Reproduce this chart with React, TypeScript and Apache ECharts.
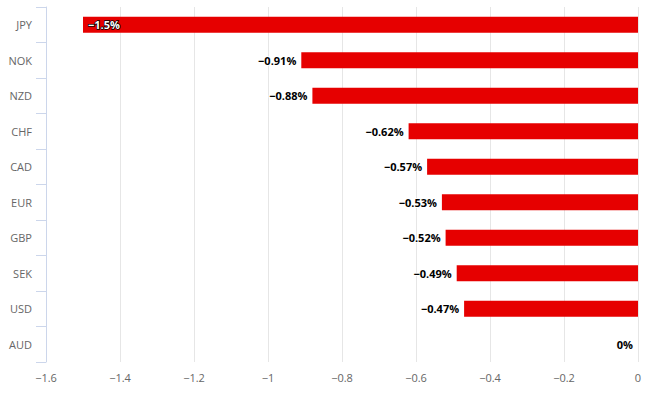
import React, { useEffect, useRef } from "react";
import * as echarts from "echarts";

const categories = ["JPY", "NOK", "NZD", "CHF", "CAD", "EUR", "GBP", "SEK", "USD", "AUD"];
const values = [-1.5, -0.91, -0.88, -0.62, -0.57, -0.53, -0.52, -0.49, -0.47, 0];
const insideIndex = [0];

const fmt = (v: number) => {
  const s = Math.abs(Math.round(v * 100) / 100).toString();
  return (v < 0 ? "\u2212" : "") + s;
};

export default function App() {
  const ref = useRef<HTMLDivElement>(null);
  useEffect(() => {
    if (!ref.current) return;
    const chart = echarts.init(ref.current, undefined, { renderer: "svg" });
    const font = "Open Sans, sans-serif";
    chart.setOption({
      animation: false,
      textStyle: { fontFamily: font },
      grid: { left: 46, right: 15, top: 7, bottom: 34, containLabel: false },
      xAxis: {
        type: "value",
        min: -1.6,
        max: 0,
        interval: 0.2,
        axisLine: { show: false },
        axisTick: { show: false },
        splitLine: { show: true, lineStyle: { color: "#e6e6e6", width: 1 } },
        axisLabel: {
          color: "#666666",
          fontSize: 11,
          fontFamily: font,
          margin: 10,
          formatter: (v: number) => fmt(v),
        },
      },
      yAxis: {
        type: "category",
        data: categories,
        inverse: true,
        position: "left",
        axisLine: { show: true, onZero: false, lineStyle: { color: "#ccd6eb", width: 1 } },
        axisTick: { show: true, length: 10, lineStyle: { color: "#ccd6eb" } },
        splitLine: { show: false },
        axisLabel: { color: "#666666", fontSize: 11, fontFamily: font, margin: 14 },
      },
      series: [
        {
          type: "bar",
          barWidth: 16,
          itemStyle: { color: "#e60000" },
          data: values.map((v, i) => {
            const inside = insideIndex.includes(i);
            return {
              value: v,
              label: inside
                ? {
                    show: true,
                    position: "insideLeft",
                    distance: 5,
                    color: "#ffffff",
                    textBorderColor: "#000000",
                    textBorderWidth: 1.5,
                  }
                : {
                    show: true,
                    position: "left",
                    distance: 5,
                    color: "#000000",
                    textBorderColor: "#ffffff",
                    textBorderWidth: 2,
                  },
            };
          }),
          label: {
            show: true,
            fontSize: 11,
            fontWeight: "bold",
            fontFamily: font,
            formatter: (p: any) => fmt(p.value) + "%",
          },
        },
      ],
    });
    return () => chart.dispose();
  }, []);
  return <div ref={ref} style={{ width: 653, height: 396, position: "absolute", left: 0, top: 0 }} />;
}
